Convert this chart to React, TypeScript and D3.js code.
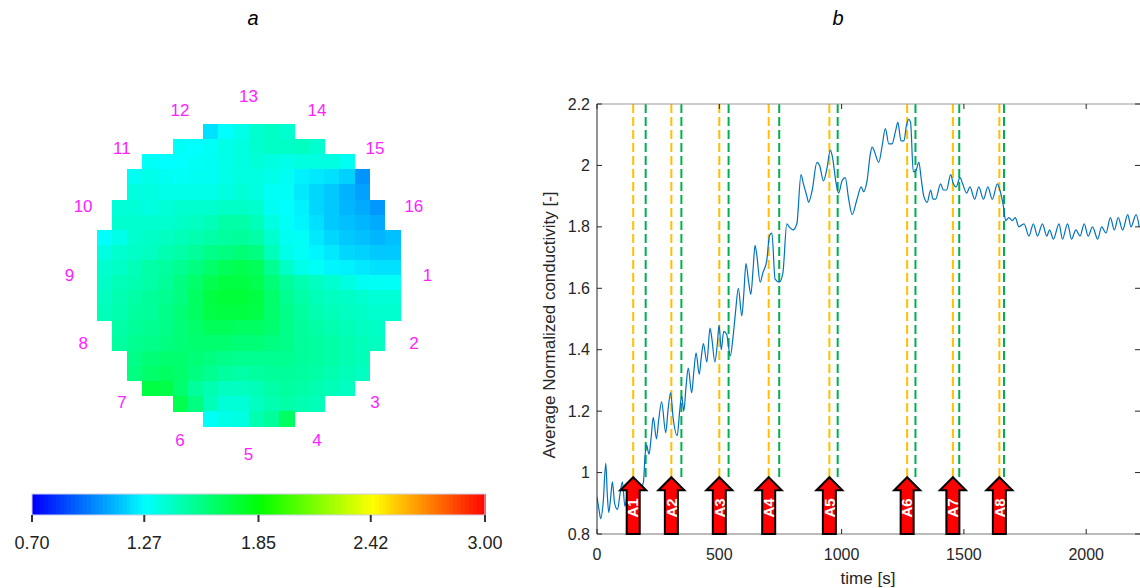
import React from 'react';
import * as d3 from 'd3';

// panel a: EIT image (20x20 pixels, 0 = outside the electrode ring)
const MAP_ROWS: number[][] = [
  [0,0,0,0,0,0,0,1.20,1.27,1.32,1.38,1.40,1.38,0,0,0,0,0,0,0],
  [0,0,0,0,0,1.29,1.27,1.29,1.32,1.34,1.38,1.40,1.40,1.41,1.38,0,0,0,0,0],
  [0,0,0,1.29,1.27,1.27,1.29,1.30,1.32,1.34,1.36,1.34,1.32,1.34,1.34,1.34,1.30,0,0,0],
  [0,0,1.30,1.32,1.30,1.29,1.30,1.30,1.32,1.34,1.34,1.32,1.30,1.24,1.22,1.20,1.17,1.03,0,0],
  [0,0,1.34,1.34,1.32,1.32,1.32,1.32,1.34,1.36,1.34,1.29,1.29,1.22,1.18,1.15,1.10,1.06,0,0],
  [0,1.36,1.36,1.34,1.36,1.38,1.38,1.38,1.40,1.40,1.38,1.30,1.27,1.24,1.18,1.15,1.11,1.08,1.04,0],
  [0,1.38,1.38,1.38,1.38,1.40,1.41,1.43,1.47,1.47,1.43,1.34,1.29,1.25,1.20,1.15,1.13,1.11,1.08,0],
  [1.27,1.32,1.38,1.40,1.41,1.43,1.45,1.47,1.49,1.50,1.47,1.38,1.30,1.29,1.22,1.18,1.15,1.13,1.11,1.13],
  [1.34,1.38,1.40,1.41,1.45,1.47,1.50,1.54,1.56,1.58,1.56,1.43,1.32,1.29,1.25,1.22,1.18,1.17,1.15,1.15],
  [1.38,1.40,1.43,1.47,1.49,1.52,1.56,1.61,1.65,1.67,1.65,1.52,1.40,1.32,1.29,1.25,1.24,1.22,1.20,1.20],
  [1.40,1.43,1.45,1.47,1.50,1.56,1.61,1.67,1.70,1.70,1.67,1.58,1.50,1.45,1.41,1.38,1.34,1.30,1.29,1.29],
  [1.41,1.45,1.47,1.50,1.52,1.56,1.63,1.70,1.72,1.72,1.70,1.61,1.52,1.47,1.43,1.41,1.40,1.38,1.36,1.36],
  [1.43,1.45,1.49,1.50,1.54,1.58,1.63,1.69,1.70,1.70,1.69,1.61,1.54,1.49,1.45,1.43,1.41,1.40,1.38,1.38],
  [0,1.47,1.50,1.52,1.54,1.58,1.61,1.65,1.65,1.63,1.63,1.60,1.54,1.50,1.47,1.45,1.43,1.41,1.40,0],
  [0,1.49,1.52,1.54,1.56,1.58,1.60,1.60,1.60,1.58,1.58,1.56,1.54,1.50,1.49,1.47,1.45,1.43,1.41,0],
  [0,0,1.54,1.58,1.60,1.60,1.58,1.56,1.54,1.52,1.52,1.52,1.52,1.50,1.49,1.47,1.45,1.43,0,0],
  [0,0,1.56,1.61,1.63,1.61,1.56,1.52,1.49,1.47,1.49,1.50,1.50,1.49,1.47,1.45,1.43,1.41,0,0],
  [0,0,0,1.70,1.69,1.60,1.50,1.45,1.41,1.41,1.43,1.47,1.49,1.47,1.45,1.43,1.41,0,0,0],
  [0,0,0,0,0,1.67,1.56,1.43,1.36,1.36,1.41,1.45,1.47,1.45,1.43,0,0,0,0,0],
  [0,0,0,0,0,0,0,1.29,1.32,1.34,1.45,1.50,1.63,0,0,0,0,0,0,0],
];
const ELECTRODES = ['1','2','3','4','5','6','7','8','9','10','11','12','13','14','15','16'];
const CBAR_TICKS = [0.70, 1.27, 1.85, 2.42, 3.00];
const CBAR_COLORS = ['#0000ff', '#00ffff', '#00ff00', '#ffff00', '#ff0000'];

// panel b: average normalized conductivity over time
const TIME = [0,8,15,25,36,42,48,56,63,72,84,94,104,114,124,134,145,160,170,179,190,196,202,213,222,230,243,252,264,281,290,301,311,328,338,346,355,364,373,387,396,405,418,427,435,449,462,469,482,492,499,508,518,530,545,556,566,578,592,600,609,620,629,638,646,653,667,678,694,705,715,728,746,760,776,786,801,817,834,844,858,865,880,899,910,926,940,954,962,978,988,1002,1015,1029,1043,1063,1080,1090,1104,1118,1125,1132,1152,1165,1179,1193,1206,1220,1230,1243,1255,1265,1275,1282,1293,1302,1316,1325,1336,1350,1364,1374,1384,1405,1416,1429,1446,1457,1468,1484,1495,1511,1525,1544,1561,1580,1598,1616,1637,1647,1661,1671,1684,1698,1710,1725,1746,1766,1784,1801,1821,1839,1850,1866,1889,1903,1924,1940,1958,1975,1992,2008,2026,2047,2063,2081,2099,2115,2131,2149,2170,2183,2204,2217];
const COND = [0.92,0.88,0.85,0.90,1.03,0.93,0.87,0.92,0.97,0.90,0.88,0.93,0.97,0.89,0.93,0.96,0.92,0.94,0.96,0.95,0.97,1.05,1.09,1.06,1.12,1.18,1.11,1.17,1.23,1.13,1.20,1.26,1.18,1.12,1.20,1.25,1.20,1.28,1.34,1.26,1.33,1.39,1.32,1.38,1.42,1.36,1.47,1.44,1.36,1.42,1.48,1.40,1.46,1.45,1.38,1.44,1.52,1.60,1.51,1.58,1.68,1.62,1.58,1.66,1.74,1.71,1.62,1.65,1.69,1.77,1.78,1.63,1.62,1.65,1.81,1.80,1.79,1.81,1.97,1.94,1.90,1.88,1.92,2.01,2.00,1.95,1.99,2.05,2.03,1.94,1.91,1.95,1.96,1.89,1.84,1.89,1.93,1.915,1.95,2.04,2.06,2.05,2.01,2.06,2.12,2.07,2.07,2.11,2.14,2.08,2.08,2.13,2.15,2.14,1.98,1.98,2.01,1.96,1.90,1.88,1.92,1.89,1.89,1.94,1.92,1.92,1.97,1.94,1.93,1.96,1.94,1.91,1.93,1.89,1.93,1.89,1.93,1.89,1.94,1.92,1.87,1.82,1.83,1.82,1.83,1.80,1.81,1.77,1.81,1.77,1.81,1.77,1.79,1.76,1.81,1.76,1.81,1.76,1.79,1.77,1.81,1.77,1.80,1.76,1.80,1.78,1.83,1.79,1.83,1.79,1.84,1.80,1.84,1.80];
const ONSETS = [148, 304, 500, 702, 950, 1268, 1455, 1645];
const OFFSETS = [199, 345, 538, 745, 984, 1302, 1481, 1664];
const ARROW_LABELS = ['A1','A2','A3','A4','A5','A6','A7','A8'];
const X_TICKS = [0, 500, 1000, 1500, 2000];
const Y_TICKS = [0.8, 1, 1.2, 1.4, 1.6, 1.8, 2, 2.2];
const Y_TICK_LABELS = ['0.8', '1', '1.2', '1.4', '1.6', '1.8', '2', '2.2'];

const FONT = '"Liberation Sans", Arial, Helvetica, sans-serif';

export default function App() {
  const W = 1140, H = 588;

  // ---- panel a
  const color = d3.scaleLinear<string>().domain(CBAR_TICKS).range(CBAR_COLORS).clamp(true);
  const col = d3.scaleBand<number>().domain(d3.range(20)).range([97, 400]);
  const row = d3.scaleBand<number>().domain(d3.range(20)).range([124, 426]);
  const cx = 248.5, cy = 275, rLab = 179;
  const cbar = d3.scaleLinear().domain([0.70, 3.00]).range([32, 485]);
  const bands = d3.range(0, 115).map(i => 0.70 + (2.30 * i) / 115);

  // ---- panel b
  const x = d3.scaleLinear().domain([0, 2220]).range([597, 1140]);
  const y = d3.scaleLinear().domain([0.8, 2.2]).range([534, 104]);
  const pts = TIME.map((t, i) => [t, COND[i]] as [number, number]);
  const line = d3.line<[number, number]>().x(d => x(d[0])).y(d => y(d[1])).curve(d3.curveMonotoneX);
  const lineBottom = 0.985;

  const arrowPath = (t: number) => {
    const p = d3.path();
    const ax = x(t), tip = y(lineBottom), base = y(0.8);
    p.moveTo(ax, tip);
    p.lineTo(ax + 13, tip + 13);
    p.lineTo(ax + 6.5, tip + 13);
    p.lineTo(ax + 6.5, base);
    p.lineTo(ax - 6.5, base);
    p.lineTo(ax - 6.5, tip + 13);
    p.lineTo(ax - 13, tip + 13);
    p.closePath();
    return p.toString();
  };

  return (
    <svg width={W} height={H} style={{ position: 'absolute', left: 0, top: 0, background: '#fff' }} fontFamily={FONT}>
      <defs>
        <clipPath id="plotclip">
          <rect x={597} y={104} width={543} height={430} />
        </clipPath>
      </defs>

      {/* panel letters */}
      <text x={253} y={25} fontSize={20} fontStyle="italic" textAnchor="middle">a</text>
      <text x={838} y={25} fontSize={20} fontStyle="italic" textAnchor="middle">b</text>

      {/* EIT image */}
      <g shapeRendering="crispEdges">
        {MAP_ROWS.map((r, ri) => r.map((v, ci) => v > 0 ? (
          <rect key={`${ri}-${ci}`} x={col(ci)} y={row(ri)} width={col.bandwidth() + 0.6} height={row.bandwidth() + 0.6} fill={color(v)} />
        ) : null))}
      </g>
      {ELECTRODES.map((lab, i) => {
        const a = (i * Math.PI * 2) / ELECTRODES.length;
        return (
          <text key={lab} x={cx + rLab * Math.cos(a)} y={cy + rLab * Math.sin(a)} dy="0.35em"
            fontSize={17} fill="#ff22ff" textAnchor="middle">{lab}</text>
        );
      })}

      {/* colour bar */}
      <g shapeRendering="crispEdges">
        {bands.map((v, i) => (
          <rect key={i} x={cbar(v)} y={494} width={453 / 115 + 0.5} height={21} fill={color(v)} />
        ))}
      </g>
      <rect x={32} y={494} width={453} height={21} fill="none" stroke="#d0d0e8" strokeWidth={1} />
      {CBAR_TICKS.map(t => (
        <g key={t}>
          <line x1={cbar(t)} x2={cbar(t)} y1={515} y2={522} stroke="#333" strokeWidth={2} />
          <text x={cbar(t)} y={549} fontSize={18} fill="#222" textAnchor="middle">{t.toFixed(2)}</text>
        </g>
      ))}

      {/* time series */}
      <g clipPath="url(#plotclip)">
        {ONSETS.map(t => (
          <line key={`on${t}`} x1={x(t)} x2={x(t)} y1={y(2.2)} y2={y(lineBottom)} stroke="#ffc000" strokeWidth={2} strokeDasharray="9,4" />
        ))}
        {OFFSETS.map(t => (
          <line key={`off${t}`} x1={x(t)} x2={x(t)} y1={y(2.2)} y2={y(lineBottom)} stroke="#00b050" strokeWidth={2} strokeDasharray="9,4" />
        ))}
        <path d={line(pts) ?? ''} fill="none" stroke="#0072bd" strokeWidth={1.2} />
      </g>

      {/* axes box */}
      <line x1={597} x2={1140} y1={104} y2={104} stroke="#999" />
      <line x1={597} x2={1140} y1={534} y2={534} stroke="#777" />
      <line x1={597} x2={597} y1={104} y2={534} stroke="#262626" />
      {X_TICKS.map(t => (
        <g key={t}>
          <line x1={x(t)} x2={x(t)} y1={534} y2={529} stroke="#262626" />
          <line x1={x(t)} x2={x(t)} y1={104} y2={109} stroke="#262626" />
          <text x={x(t)} y={560} fontSize={16} fill="#262626" textAnchor="middle">{t}</text>
        </g>
      ))}
      {Y_TICKS.map((v, i) => (
        <g key={v}>
          <line x1={597} x2={602} y1={y(v)} y2={y(v)} stroke="#262626" />
          <line x1={1135} x2={1140} y1={y(v)} y2={y(v)} stroke="#262626" />
          <text x={590} y={y(v)} dy="0.35em" fontSize={16} fill="#262626" textAnchor="end">{Y_TICK_LABELS[i]}</text>
        </g>
      ))}
      <text x={868} y={584} fontSize={17} fill="#262626" textAnchor="middle">time [s]</text>
      <text transform={`translate(555,${(104 + 534) / 2 + 6}) rotate(-90)`} fontSize={17} fill="#262626" textAnchor="middle">
        Average Normalized conductivity [-]
      </text>

      {/* addition arrows */}
      {ONSETS.map((t, i) => (
        <g key={`arrow${i}`}>
          <path d={arrowPath(t)} fill="#ff0000" stroke="#000" strokeWidth={2} strokeLinejoin="miter" />
          <text transform={`translate(${x(t)},508) rotate(-90)`} dy="0.35em" fontSize={15} fontWeight="bold"
            fill="#fff" textAnchor="middle">{ARROW_LABELS[i]}</text>
        </g>
      ))}
    </svg>
  );
}
